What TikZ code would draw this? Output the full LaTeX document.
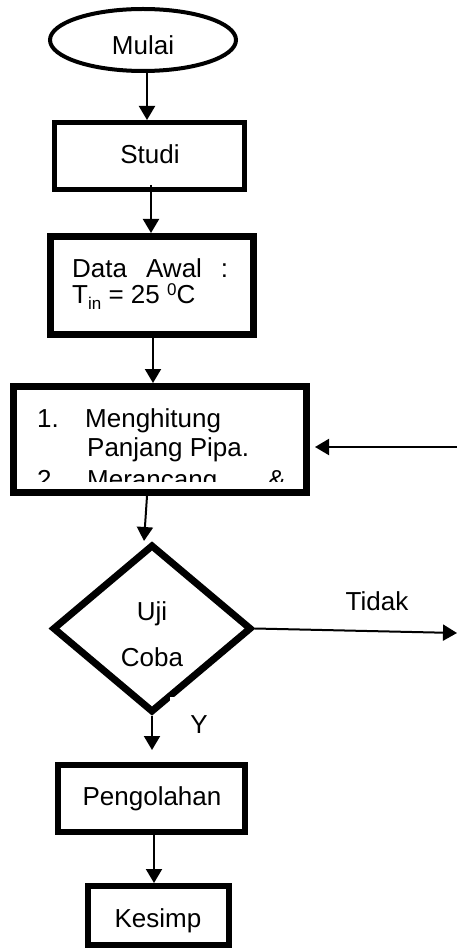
\documentclass[tikz,border=0pt]{standalone}
\usepackage{fontspec}
\setmainfont{Liberation Sans}
\usetikzlibrary{shapes.geometric,arrows.meta}
\begin{document}
\begin{tikzpicture}[x=1pt,y=-1pt,
  txt/.style={font=\fontsize{26}{30}\selectfont, inner sep=0pt, anchor=base},
  arr/.style={line width=2pt, -{Triangle[length=14pt,width=16pt]}},
  box/.style={draw, rectangle, inner sep=0pt},
]
\useasboundingbox (0,0) rectangle (457,949);
\fill[white] (0,0) rectangle (457,949);
% shapes
\node[draw, ellipse, line width=4pt, minimum width=186pt, minimum height=62pt, inner sep=0pt] (mulai) at (143,40) {};
\node[box, line width=5pt, minimum width=190pt, minimum height=67pt] (studi) at (149.5,156) {};
\node[box, line width=7pt, minimum width=203pt, minimum height=98pt] (data) at (152,285.5) {};
\node[box, line width=7pt, minimum width=293pt, minimum height=106pt] (m) at (160,439.5) {};
\node[draw, diamond, line width=7pt, minimum width=199pt, minimum height=168pt, inner sep=0pt] (dia) at (152,628.5) {};
\fill[white] (170,697) rectangle (186,712);
\node[box, line width=6pt, minimum width=187pt, minimum height=67pt] (peng) at (151.5,798.5) {};
\node[box, line width=6pt, minimum width=141pt, minimum height=59pt] (kes) at (158.5,915.5) {};
% texts
\node[txt] (tmulai) at (143,55) {Mulai};
\node[txt] (tstudi) at (150,164) {Studi};
\node[txt, anchor=base west] (tdata1) at (72,278) {\makebox[156pt][l]{Data\hfill Awal\hfill :}};
\node[txt, anchor=base west] (tdata2) at (72,303) {T\raisebox{-6pt}{\fontsize{17}{17}\selectfont in} = 25 \raisebox{8pt}{\fontsize{17}{17}\selectfont 0}C};
\begin{scope}
\clip (17,389) rectangle (303,481);
\node[txt, anchor=base west] (l1n) at (37,427) {1.};
\node[txt, anchor=base west] (l1) at (85,427) {Menghitung};
\node[txt, anchor=base west] (l2) at (87,456) {Panjang Pipa.};
\node[txt, anchor=base west] (l3n) at (37,488) {2.};
\node[txt, anchor=base west] (l3) at (87,488) {Merancang};
\node[txt, anchor=base west] (l3b) at (268,488) {\&};
\end{scope}
\node[txt] (tuji) at (152,620) {Uji};
\node[txt] (tcoba) at (152,666) {Coba};
\node[txt] (ttidak) at (377,610) {Tidak};
\node[txt] (ty) at (199,733) {Y};
\node[txt] (tpeng) at (152,805) {Pengolahan};
\node[txt] (tkes) at (158,927) {Kesimp};
% connectors
\coordinate (tend) at (457,633);
\coordinate (fb) at (457,447);
\draw[arr] ([xshift=4pt]mulai.south) -- ([xshift=4pt]mulai.south |- studi.north);
\draw[arr] ([xshift=1.5pt,yshift=7pt]studi.south) -- ([xshift=1.5pt]studi.south |- data.north);
\draw[arr] ([xshift=1pt]data.south) -- ([xshift=1pt]data.south |- m.north);
\draw[arr] ([xshift=-13pt]m.south) -- ([xshift=-8pt]dia.north);
\draw[arr] (dia.east) -- (tend);
\draw[arr] (fb) -- ([xshift=5pt]m.east |- fb);
\draw[arr] (dia.south) -- ([yshift=12pt]dia.south |- peng.north);
\draw[arr] ([xshift=2.5pt]peng.south) -- ([xshift=2.5pt]peng.south |- kes.north);
\end{tikzpicture}
\end{document}
